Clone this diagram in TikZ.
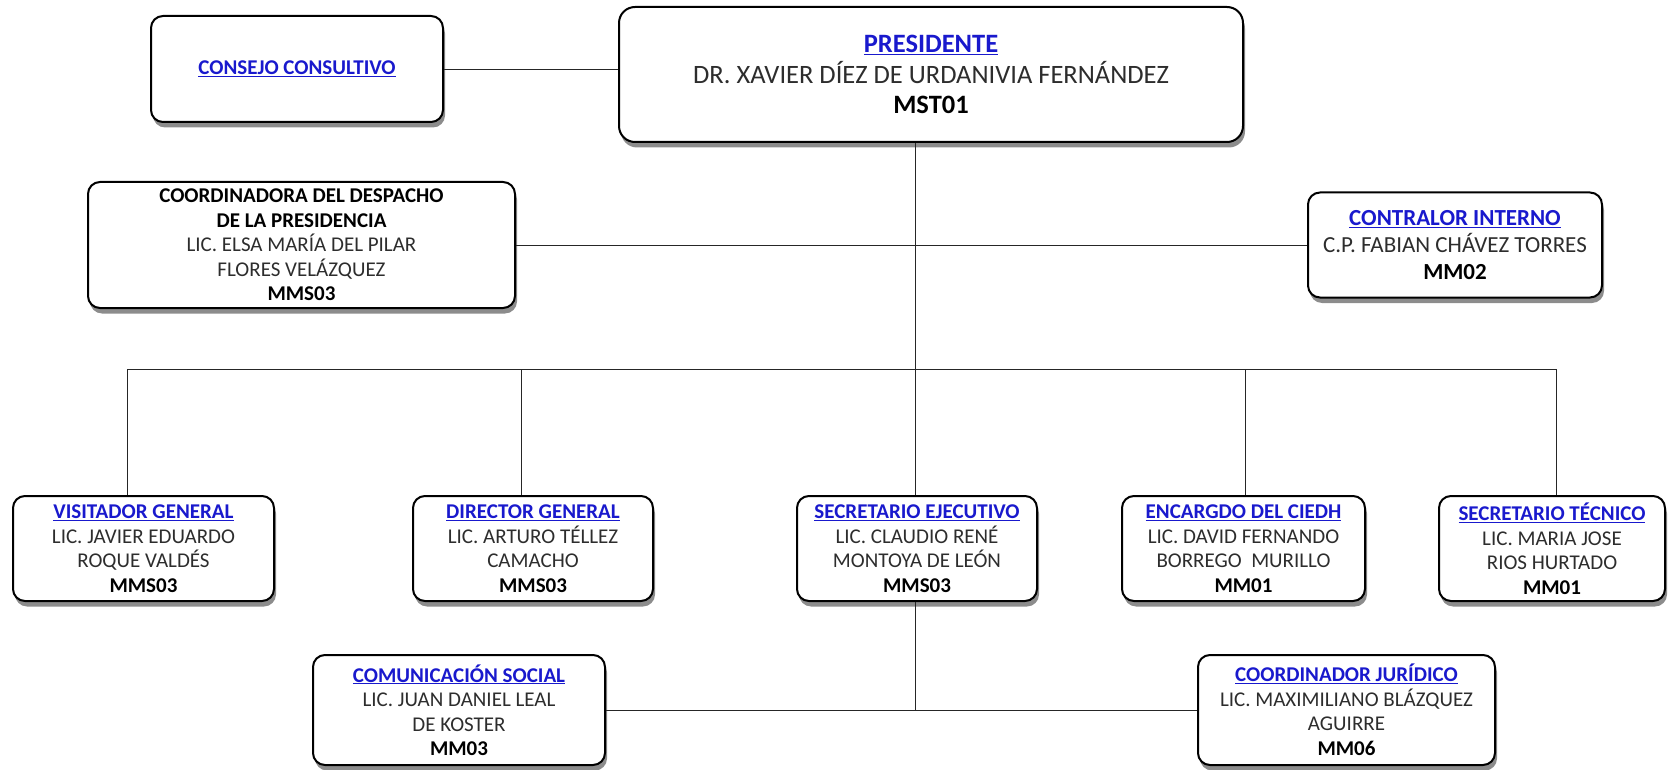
\documentclass[tikz,border=0pt]{standalone}
\usepackage{fontspec}
\setmainfont{Carlito}
\usepackage{xcolor}
\usetikzlibrary{shadows, positioning}

\definecolor{titleblue}{RGB}{25,25,205}
\definecolor{namegray}{RGB}{45,45,45}
\newcommand{\cargo}[1]{\textcolor{titleblue}{\underline{\textbf{#1}}}}
\newcommand{\clave}[1]{\textcolor{black}{\textbf{#1}}}

\begin{document}
\begin{tikzpicture} [
	x=1pt, y=-1pt, % one unit per pixel, y runs downwards
	box/.style={draw, line width=2pt, rounded corners=12pt, fill=white, align=center, text=namegray,
		font=\fontsize{21}{24.5}\selectfont, minimum height=105pt, inner sep=1pt,
		drop shadow={shadow xshift=2pt, shadow yshift=-5.5pt, opacity=0.9}}, % every office
	bigbox/.style={box, rounded corners=16pt, font=\fontsize{26.5}{30.5}\selectfont}, % the president
	link/.style={draw=black!85, line width=0.9pt}, % the lines of the chart
	]
	\useasboundingbox (0,0) rectangle (1668,770);

	% top level
	\node[box, minimum width=292pt, minimum height=106pt] (consejo) at (297,69) {\cargo{CONSEJO CONSULTIVO}};
	\node[bigbox, minimum width=624pt, minimum height=135pt] (pres) at (931,74.5)
		{\cargo{PRESIDENTE}\\DR. XAVIER DÍEZ DE URDANIVIA FERNÁNDEZ\\\clave{MST01}};

	% staff
	\node[box, minimum width=427pt, minimum height=126pt] (coord) at (301.5,245)
		{\clave{COORDINADORA DEL DESPACHO}\\\clave{DE LA PRESIDENCIA}\\LIC. ELSA MARÍA DEL PILAR\\FLORES VELÁZQUEZ\\\clave{MMS03}};
	\node[box, minimum width=294pt, font=\fontsize{23}{27}\selectfont] (contr) at (1455,245)
		{\cargo{CONTRALOR INTERNO}\\C.P. FABIAN CHÁVEZ TORRES\\\clave{MM02}};

	% second level
	\node[box, minimum width=261pt] (visit) at (143.5,548.5)
		{\cargo{VISITADOR GENERAL}\\LIC. JAVIER EDUARDO\\ROQUE VALDÉS\\\clave{MMS03}};
	\node[box, minimum width=240pt] (dir) at (533,548.5)
		{\cargo{DIRECTOR GENERAL}\\LIC. ARTURO TÉLLEZ\\CAMACHO\\\clave{MMS03}};
	\node[box, minimum width=240pt] (secej) at (917,548.5)
		{\cargo{SECRETARIO EJECUTIVO}\\LIC. CLAUDIO RENÉ\\MONTOYA DE LEÓN\\\clave{MMS03}};
	\node[box, minimum width=243pt] (enc) at (1243.5,548.5)
		{\cargo{ENCARGDO DEL CIEDH}\\LIC. DAVID FERNANDO\\BORREGO\ \ MURILLO\\\clave{MM01}};
	\node[box, minimum width=226pt] (sectec) at (1552,548.5)
		{\cargo{SECRETARIO TÉCNICO}\\LIC. MARIA JOSE\\RIOS HURTADO\\\clave{MM01}};

	% third level
	\node[box, minimum width=292pt, minimum height=110pt] (com) at (459,710)
		{\cargo{COMUNICACIÓN SOCIAL}\\LIC. JUAN DANIEL LEAL\\DE KOSTER\\\clave{MM03}};
	\node[box, minimum width=297pt, minimum height=110pt] (jur) at (1346.5,710)
		{\cargo{COORDINADOR JURÍDICO}\\LIC. MAXIMILIANO BLÁZQUEZ\\AGUIRRE\\\clave{MM06}};

	% bus points
	\coordinate (b1) at (127,369);
	\coordinate (b2) at (521,369);
	\coordinate (b3) at (915,369);
	\coordinate (b4) at (1245,369);
	\coordinate (b5) at (1556,369);

	\draw[link]
		(consejo.east) -- (consejo.east -| pres.west)
		(pres.south -| b3) -- (b3)
		(coord.east) -- (contr.west)
		(b1) -- (b5)
		(b1) -- (b1 |- visit.north)
		(b2) -- (b2 |- dir.north)
		(b3) -- (b3 |- secej.north)
		(b4) -- (b4 |- enc.north)
		(b5) -- (b5 |- sectec.north)
		(secej.south -| b3) -- (com.east -| b3)
		(com.east) -- (jur.west)
	;
\end{tikzpicture}
\end{document}
